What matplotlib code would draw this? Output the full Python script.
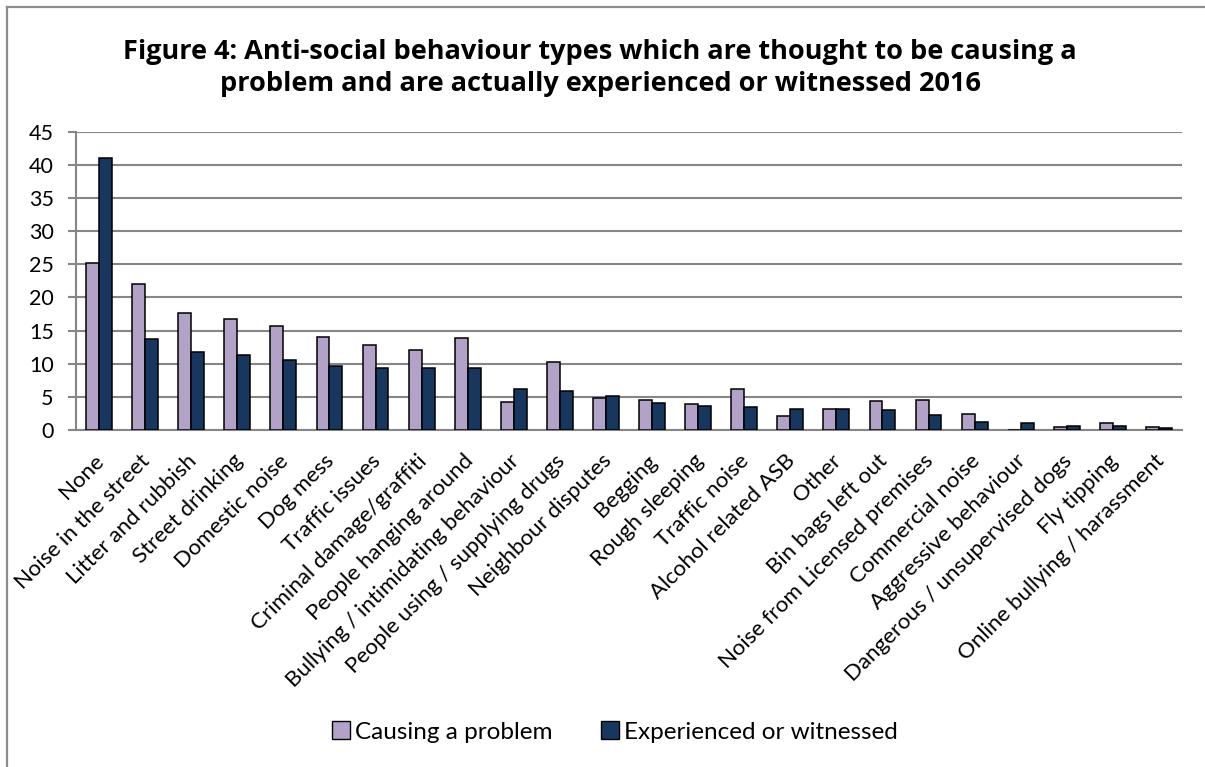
import matplotlib
matplotlib.use("Agg")
import matplotlib.pyplot as plt
import numpy as np
from matplotlib.patches import Patch
from matplotlib.lines import Line2D
from matplotlib.transforms import ScaledTranslation

categories = ["None", "Noise in the street", "Litter and rubbish", "Street drinking",
              "Domestic noise", "Dog mess", "Traffic issues", "Criminal damage/graffiti",
              "People hanging around", "Bullying / intimidating behaviour",
              "People using / supplying drugs", "Neighbour disputes", "Begging",
              "Rough sleeping", "Traffic noise", "Alcohol related ASB", "Other",
              "Bin bags left out", "Noise from Licensed premises", "Commercial noise",
              "Aggressive behaviour", "Dangerous / unsupervised dogs", "Fly tipping",
              "Online bullying / harassment"]
causing = [25.2, 22.0, 17.7, 16.8, 15.7, 14.0, 12.85, 12.0, 13.9, 4.2, 10.2, 4.9, 4.5,
           3.9, 6.2, 2.1, 3.2, 4.3, 4.6, 2.4, 0.0, 0.4, 1.1, 0.45]
experienced = [41.1, 13.75, 11.7, 11.3, 10.5, 9.6, 9.4, 9.3, 9.3, 6.2, 5.85, 5.1, 4.1,
               3.6, 3.5, 3.2, 3.2, 3.0, 2.3, 1.26, 1.0, 0.65, 0.55, 0.35]
series_names = ["Causing a problem", "Experienced or witnessed"]
yticks = [0, 5, 10, 15, 20, 25, 30, 35, 40, 45]

plt.rcParams['font.family'] = ['Lato', 'DejaVu Sans']

W, H = 1205, 767
fig = plt.figure(figsize=(W / 100, H / 100), dpi=100)
ax = fig.add_axes([76 / W, 1 - 430 / H, (1182 - 76) / W, (430 - 131.7) / H])

c1, c2 = "#B3A2C7", "#17375E"
x = np.arange(len(categories))
w = 0.28
ax.bar(x, causing, width=-w, align='edge', color=c1, edgecolor='black', linewidth=1.1, zorder=3)
ax.bar(x, experienced, width=w, align='edge', color=c2, edgecolor='black', linewidth=1.1, zorder=3)

ax.set_xlim(-0.5, len(categories) - 0.5)
ax.set_ylim(0, 45)
ax.set_yticks(yticks)
ax.set_yticklabels([str(v) for v in yticks], fontsize=15.5)
ax.yaxis.grid(True, color="#868686", linewidth=1.5, zorder=0)
ax.set_axisbelow(True)
for s in ['top', 'right']:
    ax.spines[s].set_visible(False)
ax.spines['left'].set_color("#868686")
ax.spines['left'].set_linewidth(1.5)
ax.spines['bottom'].set_color("#868686")
ax.spines['bottom'].set_linewidth(1.5)
ax.tick_params(axis='y', length=6, width=1.5, color="#868686", pad=10)
ax.tick_params(axis='x', length=0, pad=20)
ax.set_xticks(x)
ax.set_xticklabels(categories, rotation=45, ha='right', va='center',
                   rotation_mode='anchor', fontsize=16)
offset = ScaledTranslation(2 / 100, 0, fig.dpi_scale_trans)
for lab in ax.get_xticklabels():
    lab.set_transform(lab.get_transform() + offset)

fig.text(0.498, 1 - 68 / H,
         "Figure 4: Anti-social behaviour types which are thought to be causing a\n"
         "problem and are actually experienced or witnessed 2016",
         ha='center', va='center', fontsize=19.5, fontweight='bold', linespacing=1.3,
         family=['Open Sans', 'DejaVu Sans'])

handles = [Patch(facecolor=c1, edgecolor='black', linewidth=1.0),
           Patch(facecolor=c2, edgecolor='black', linewidth=1.0)]
fig.legend(handles, series_names, loc='center', bbox_to_anchor=(0.51, 1 - 732 / H),
           ncol=2, frameon=False, fontsize=17.5, handlelength=0.75, handleheight=0.75,
           handletextpad=0.2, columnspacing=2.0)

# chart border (left and top edges)
bc = "#8c8c8c"
fig.add_artist(Line2D([7 / W, 7 / W], [0, 1 - 7 / H], color=bc, linewidth=1.6,
                      transform=fig.transFigure))
fig.add_artist(Line2D([7 / W, 1], [1 - 7 / H, 1 - 7 / H], color=bc, linewidth=1.6,
                      transform=fig.transFigure))

fig.savefig("out.png", dpi=100)
